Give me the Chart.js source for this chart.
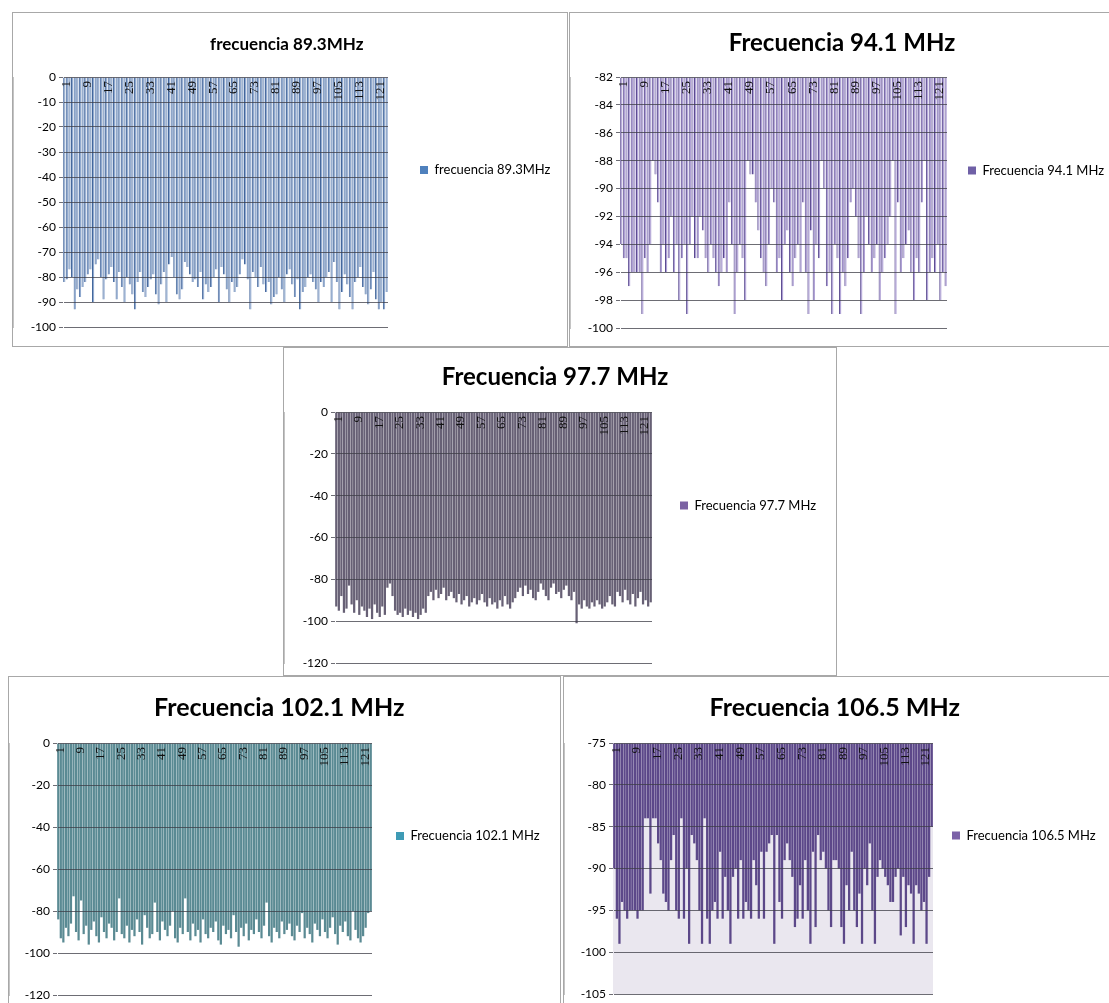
<!DOCTYPE html>
<html>
<head>
<meta charset="utf-8">
<script src="https://cdn.jsdelivr.net/npm/chart.js@4.4.1/dist/chart.umd.min.js"></script>
<style>
  body { margin: 0; background: #fff; width: 1109px; height: 1003px; position: relative; overflow: hidden; }
  .box { position: absolute; background: #fff; border: 1px solid #a8a8a8; box-sizing: border-box; }
  .box canvas { position: absolute; left: 0; top: 0; }
</style>
</head>
<body>
<div class="box" style="left:12px;top:12px;width:556px;height:335px"><canvas id="c1" width="554" height="333"></canvas></div>
<div class="box" style="left:569px;top:12px;width:547px;height:335px"><canvas id="c2" width="545" height="333"></canvas></div>
<div class="box" style="left:283px;top:347px;width:554px;height:329px"><canvas id="c3" width="552" height="327"></canvas></div>
<div class="box" style="left:8px;top:676px;width:553px;height:340px"><canvas id="c4" width="551" height="338"></canvas></div>
<div class="box" style="left:563px;top:676px;width:560px;height:340px"><canvas id="c5" width="558" height="338"></canvas></div>

<script>
// muestras 1..124, etiquetas del eje cada 8 muestras
const categories = Array.from({ length: 124 }, (_, i) => String(i + 1));
const shownTicks = ['1', '9', '17', '25', '33', '41', '49', '57', '65', '73', '81', '89', '97', '105', '113', '121'];

// niveles medidos (dBm)
const f893 = [
  -82, -81, -77, -80, -93, -85, -88, -84, -82, -79, -77, -90, -75, -73, -80, -89, -81, -79, -76, -82,
  -89, -78, -84, -90, -80, -83, -87, -93, -82, -78, -86, -88, -84, -81, -79, -87, -91, -83, -78, -90,
  -75, -72, -80, -87, -89, -85, -74, -76, -79, -82, -81, -84, -78, -89, -83, -86, -84, -80, -77, -90,
  -76, -79, -85, -90, -82, -86, -84, -79, -73, -75, -81, -93, -78, -80, -84, -76, -83, -86, -82, -91,
  -88, -87, -80, -85, -90, -79, -77, -83, -88, -81, -93, -86, -84, -80, -79, -82, -85, -90, -82, -84,
  -80, -78, -90, -74, -82, -93, -86, -79, -83, -88, -93, -82, -80, -76, -84, -87, -91, -85, -78, -89,
  -93, -90, -93, -86
];
const f941 = [
  -94, -95, -95, -97, -96, -96, -96, -96, -99, -95, -96, -94, -88, -89, -91, -96, -94, -96, -95, -92,
  -96, -94, -98, -95, -94, -99, -94, -92, -95, -95, -92, -93, -95, -96, -94, -95, -96, -97, -96, -95,
  -96, -91, -94, -99, -96, -94, -95, -98, -88, -89, -89, -91, -93, -95, -96, -97, -94, -90, -91, -96,
  -95, -98, -94, -93, -96, -97, -95, -94, -96, -91, -96, -99, -93, -98, -94, -95, -88, -90, -97, -96,
  -99, -94, -95, -99, -96, -97, -95, -91, -90, -92, -95, -99, -96, -92, -94, -96, -95, -94, -98, -96,
  -95, -94, -92, -88, -99, -91, -96, -95, -94, -93, -96, -98, -95, -96, -91, -88, -98, -96, -95, -96,
  -94, -98, -96, -97
];
const f977 = [
  -93, -95, -88, -96, -94, -83, -92, -96, -90, -97, -93, -95, -98, -94, -99, -92, -96, -98, -93, -97,
  -84, -82, -88, -95, -97, -96, -98, -94, -97, -95, -98, -96, -99, -97, -94, -96, -88, -86, -90, -85,
  -89, -87, -84, -90, -88, -86, -89, -91, -87, -92, -90, -88, -93, -91, -89, -92, -90, -87, -91, -93,
  -89, -92, -91, -94, -90, -93, -88, -92, -94, -91, -89, -86, -84, -88, -83, -87, -85, -89, -90, -86,
  -82, -85, -88, -90, -84, -82, -87, -86, -89, -85, -83, -88, -90, -86, -101, -92, -94, -90, -93, -94,
  -91, -93, -90, -92, -94, -93, -91, -88, -92, -93, -86, -88, -91, -85, -90, -92, -87, -93, -89, -86,
  -92, -90, -93, -91
];
const f1021 = [
  -84, -93, -95, -88, -92, -86, -73, -90, -94, -75, -91, -87, -96, -89, -85, -92, -95, -83, -90, -93,
  -86, -88, -94, -90, -74, -91, -93, -87, -95, -89, -92, -84, -90, -96, -82, -88, -93, -91, -76, -90,
  -94, -85, -89, -92, -87, -80, -93, -95, -88, -91, -74, -90, -94, -86, -92, -89, -95, -84, -91, -93,
  -88, -90, -85, -94, -96, -87, -91, -89, -93, -82, -90, -97, -88, -92, -86, -94, -89, -91, -84, -90,
  -93, -87, -76, -92, -95, -88, -90, -93, -85, -91, -89, -86, -92, -94, -87, -90, -81, -93, -88, -91,
  -95, -86, -89, -92, -84, -90, -93, -88, -83, -91, -96, -87, -90, -85, -92, -94, -80, -89, -93, -95,
  -92, -88, -81, -80
];
const f1065 = [
  -90, -96, -99, -94, -95, -96, -95, -95, -95, -96, -95, -95, -84, -84, -93, -84, -84, -87, -89, -93,
  -94, -95, -89, -86, -95, -96, -84, -96, -90, -99, -86, -87, -89, -95, -99, -84, -96, -99, -95, -94,
  -96, -88, -96, -91, -95, -99, -91, -90, -96, -89, -96, -94, -95, -96, -89, -92, -96, -88, -96, -88,
  -87, -86, -99, -86, -94, -96, -89, -87, -89, -91, -97, -96, -92, -96, -89, -95, -99, -88, -97, -86,
  -89, -88, -90, -95, -97, -89, -89, -90, -97, -99, -92, -95, -88, -95, -97, -93, -99, -90, -92, -87,
  -95, -99, -91, -89, -90, -91, -92, -94, -94, -91, -90, -98, -91, -97, -92, -93, -99, -92, -93, -95,
  -94, -99, -91, -85
];

// etiquetas verticales del eje de categorías, dibujadas dentro del área, bajo el borde superior
const topLabels = {
  id: 'topLabels',
  afterDraw(chart) {
    const { ctx, chartArea, scales: { x } } = chart;
    ctx.save();
    ctx.font = '13px "Liberation Serif"';
    ctx.fillStyle = '#111';
    ctx.textAlign = 'right';
    ctx.textBaseline = 'middle';
    shownTicks.forEach(t => {
      const px = x.getPixelForValue(categories.indexOf(t));
      ctx.save();
      ctx.translate(px + 2, chartArea.top + 4);
      ctx.rotate(-Math.PI / 2);
      ctx.fillText(t, 0, 0);
      ctx.restore();
    });
    ctx.restore();
  }
};

// fondo del área de trazado
const plotBg = {
  id: 'plotBg',
  beforeDraw(chart, args, opts) {
    if (!opts.color) return;
    const { ctx, chartArea: a } = chart;
    ctx.save();
    ctx.fillStyle = opts.color;
    ctx.fillRect(a.left, a.top, a.width, a.height);
    ctx.restore();
  }
};

const LEGEND_FONT = 13;
const measureCtx = document.createElement('canvas').getContext('2d');

// ancho que ocupará la leyenda de la derecha (misma cuenta que hace Chart.js)
function legendWidth(text, gap) {
  measureCtx.font = LEGEND_FONT + 'px Lato';
  return gap + 8 + LEGEND_FONT / 2 + measureCtx.measureText(text).width + 10;
}

function buildChart(c) {
  const canvas = document.getElementById(c.id);
  const titleH = c.titleSize * 1.2;
  const padRight = Math.max(0, canvas.width - c.plotRight - legendWidth(c.label, c.legendGap));
  return new Chart(canvas, {
    type: 'bar',
    data: {
      labels: categories,
      datasets: [{
        label: c.label,
        data: c.data,
        base: c.max,
        backgroundColor: c.fill,
        borderColor: c.stroke,
        borderWidth: c.stroke ? { left: 1, right: 0, top: 0, bottom: 0 } : 0,
        borderSkipped: false,
        barPercentage: c.barPct,
        categoryPercentage: 1
      }]
    },
    plugins: [plotBg, topLabels],
    options: {
      responsive: false,
      animation: false,
      layout: { padding: { left: 0, top: 0, right: padRight, bottom: c.padBottom } },
      plugins: {
        plotBg: { color: c.bg },
        title: {
          display: true,
          text: c.label,
          color: '#000',
          font: { family: 'Lato', size: c.titleSize, weight: 'bold' },
          padding: { top: c.titleTop, bottom: c.plotTop - c.titleTop - titleH }
        },
        legend: {
          position: 'right',
          maxWidth: 400,
          labels: {
            boxWidth: 8,
            boxHeight: 8,
            padding: c.legendGap,
            color: '#111',
            font: { family: 'Lato', size: LEGEND_FONT },
            generateLabels: () => [{
              text: c.label, fillStyle: c.swatch, strokeStyle: c.swatch,
              lineWidth: 0, hidden: false, datasetIndex: 0
            }]
          }
        },
        tooltip: { enabled: false }
      },
      scales: {
        x: { display: false, offset: true },
        y: {
          min: c.min,
          max: c.max,
          afterFit: s => { s.width = c.plotLeft; },
          ticks: { stepSize: c.step, color: '#000', padding: 3, font: { family: 'Lato', size: 12 } },
          grid: { color: 'rgba(60,60,70,0.75)', tickLength: 4, z: 1 },
          border: { color: '#8a8a8a' }
        }
      }
    }
  });
}

buildChart({ id: 'c1', label: 'frecuencia 89.3MHz', data: f893, min: -100, max: 0, step: 10,
  fill: '#91AACF', stroke: '#43669B', swatch: '#4F81BD', barPct: 0.88,
  titleSize: 17, titleTop: 21, plotTop: 64, plotLeft: 50, plotRight: 375, legendGap: 32, padBottom: 19 });

buildChart({ id: 'c2', label: 'Frecuencia 94.1 MHz', data: f941, min: -100, max: -82, step: 2,
  fill: '#B0A2D6', stroke: '#5B4B91', swatch: '#6F60A6', barPct: 0.88,
  titleSize: 24, titleTop: 16, plotTop: 64, plotLeft: 50, plotRight: 377, legendGap: 21, padBottom: 18 });

buildChart({ id: 'c3', label: 'Frecuencia 97.7 MHz', data: f977, min: -120, max: 0, step: 20,
  fill: '#676075', stroke: null, swatch: '#7B62A3', barPct: 0.88,
  titleSize: 24, titleTop: 15, plotTop: 64, plotLeft: 51, plotRight: 368, legendGap: 28, padBottom: 12 });

buildChart({ id: 'c4', label: 'Frecuencia 102.1 MHz', data: f1021, min: -120, max: 0, step: 20,
  fill: '#5A8A93', stroke: null, swatch: '#3E9BB5', barPct: 0.88,
  titleSize: 25, titleTop: 16, plotTop: 66, plotLeft: 48, plotRight: 363, legendGap: 24, padBottom: 20 });

buildChart({ id: 'c5', label: 'Frecuencia 106.5 MHz', data: f1065, min: -105, max: -75, step: 5,
  fill: '#5C4889', stroke: null, swatch: '#7C62A8', barPct: 0.88, bg: '#EAE7EF',
  titleSize: 25, titleTop: 16, plotTop: 66, plotLeft: 49, plotRight: 369, legendGap: 19, padBottom: 21 });
</script>
</body>
</html>
